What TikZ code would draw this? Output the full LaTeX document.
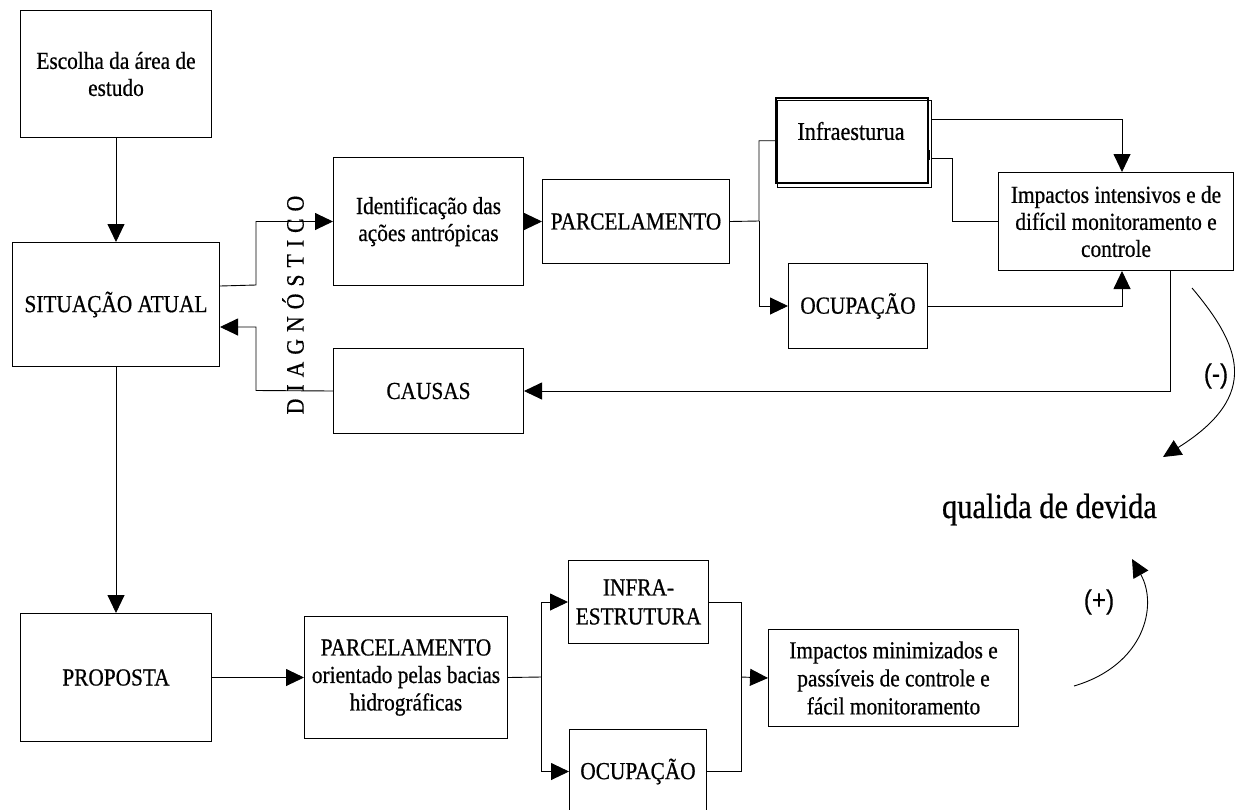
\documentclass[tikz,border=0pt]{standalone}
\usepackage{fontspec}
\setmainfont{Liberation Serif}[FakeStretch=0.87, RawFeature={embolden=0.6}]
\newfontfamily\sansf{Liberation Sans}[FakeStretch=0.9, RawFeature={embolden=0.4}]
\usetikzlibrary{arrows.meta}
\newcommand\diagtext{D\kern7pt I\kern7pt A\kern7pt G\kern7pt N\kern7pt Ó\kern7pt S\kern7pt T\kern7pt I\kern7pt C\kern7pt O}
\begin{document}
\begin{tikzpicture}[x=1pt,y=-1pt,
  box/.style={draw, line width=1pt, align=center, inner sep=0pt, anchor=north west,
    font=\fontsize{24.5}{27}\selectfont},
  sbox/.style={box, font=\fontsize{24.5}{28}\selectfont},
  conn/.style={line width=0.9pt},
  arr/.style={conn, -{Triangle[length=18pt,width=17pt]}},
  sign/.style={font=\sansf\fontsize{27}{30}\selectfont, inner sep=0pt},
]
\useasboundingbox (0,0) rectangle (1236,809);

% top part
\node[box, minimum width=191pt, minimum height=127pt] (esc) at (20,10) {Escolha da área de\\estudo};
\node[box, minimum width=207pt, minimum height=124pt] (sit) at (12,242) {SITUAÇÃO ATUAL};
\node[box, minimum width=190pt, minimum height=128pt] (ident) at (333,157) {Identificação das\\ações antrópicas};
\node[box, minimum width=187pt, minimum height=84pt] (parc) at (542,179) {PARCELAMENTO};
\node[box, line width=0.8pt, minimum width=154pt, minimum height=87pt] (infrash) at (777,100) {};
\node[box, line width=2.4pt, minimum width=152pt, minimum height=85pt] (infra) at (775,97) {};
\node[font=\fontsize{25.5}{27}\selectfont, inner sep=0pt] (infratxt) at (851,131) {Infraesturua};
\draw[line width=2pt] (infra.east |- 0,150) -- (infra.east |- 0,160);
\node[box, minimum width=139pt, minimum height=85pt] (ocup) at (788,263) {OCUPAÇÃO};
\node[box, minimum width=235pt, minimum height=98pt] (imp) at (998,172) {Impactos intensivos e de\\difícil monitoramento e\\controle};
\node[box, minimum width=190pt, minimum height=85pt] (causas) at (333,348) {CAUSAS};
\node[rotate=90, font=\fontsize{25}{27}\selectfont, inner sep=0pt] (diag) at (293,305) {\diagtext};

% bottom part
\node[box, minimum width=191pt, minimum height=128pt] (prop) at (20,613) {PROPOSTA};
\node[box, font=\fontsize{24.5}{27.5}\selectfont, minimum width=203pt, minimum height=122pt] (parc2) at (304,616) {PARCELAMENTO\\orientado pelas bacias\\hidrográficas};
\node[sbox, font=\fontsize{24.5}{29}\selectfont, minimum width=140pt, minimum height=83pt] (infra2) at (568,560) {INFRA-\\ESTRUTURA};
\node[sbox, minimum width=137pt, minimum height=84pt] (ocup2) at (569,729) {OCUPAÇÃO};
\node[sbox, minimum width=250pt, minimum height=97pt] (imp2) at (768,629) {Impactos minimizados e\\passíveis de controle e\\fácil monitoramento};

\node[font=\fontsize{35}{38}\selectfont, inner sep=0pt, anchor=base east] (qv) at (1157,518) {qualida de devida};
\node[sign] (minus) at (1216,376) {(-)};
\node[sign] (plus) at (1099,602) {(+)};

% connectors top
\draw[arr] (esc.south) -- (sit.north);
\draw[arr] (sit.east |- ident.south) -- (256,285) |- (ident.west);
\draw[arr] (causas.west) -- (256,390.5) |- (sit.east |- 0,327);
\draw[arr] (ident.east) -- (parc.west);
\coordinate (b1) at (759,221);
\draw[conn] (parc.east) -- (b1) |- (infra.west);
\draw[arr] (b1) |- (ocup.west);
\draw[arr] (infrash.east |- 0,119) -| (1122,0 |- imp.north);
\draw[conn] (infrash.east |- 0,158) -- (952,158) |- (imp.west);
\draw[arr] (ocup.east) -| (1122,0 |- imp.south);
\draw[arr] (1170,0 |- imp.south) |- (causas.east);

% connectors bottom
\draw[arr] (sit.south) -- (prop.north);
\draw[arr] (prop.east |- parc2.west) -- (parc2.west);
\coordinate (b2) at (541,677);
\draw[conn] (parc2.east) -- (b2);
\draw[arr] (b2) |- (infra2.west);
\draw[arr] (b2) |- (ocup2.west);
\coordinate (j2) at (741,677);
\draw[conn] (infra2.east) -| (j2);
\draw[conn] (ocup2.east) -| (j2);
\draw[arr] (j2) -- (imp2.west);

% curved arrows
\coordinate (m0) at (1192,288);
\coordinate (m1) at (1163,457);
\draw[arr] (m0) .. controls (1240,345) and (1262,395) .. (m1);
\coordinate (p0) at (1074,686);
\coordinate (p1) at (1132,559);
\draw[arr] (p0) .. controls (1145,665) and (1158,605) .. (p1);
\end{tikzpicture}
\end{document}
